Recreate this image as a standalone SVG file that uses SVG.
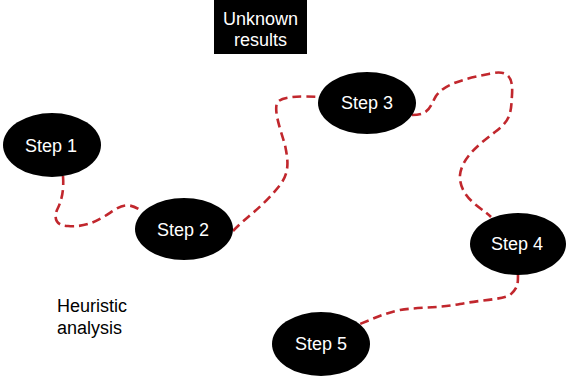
<svg xmlns="http://www.w3.org/2000/svg" width="566" height="376" viewBox="0 0 566 376">
<style>
.conn{fill:none;stroke:#c1272d;stroke-width:2.6;stroke-dasharray:9,5;stroke-linecap:butt}
.node ellipse{fill:#000}
.lbl{font-family:"Liberation Sans",Arial,sans-serif;font-size:18px;fill:#fff;text-anchor:middle}
.plain{font-family:"Liberation Sans",Arial,sans-serif;font-size:18px;fill:#000}
</style>
<rect width="566" height="376" fill="#fff"/>
<g id="connectors">
<path class="conn" d="M63,176 C64,190 62,200 57,210 C53,220 58,226 68,226 C82,227 92,224 105,216 C118,208 125,200 140,210"/>
<path class="conn" d="M233,231 C245,218 262,208 280,185 C290,172 288,160 285,145 C280,128 274,112 277,103 C281,96 300,96 320,97"/>
<path class="conn" d="M412,115 C430,115 430,106 436,96 C446,82 470,78 493,73 C510,70 513,80 512,95 C511,110 512,120 495,132 C478,145 462,158 460,175 C459,190 470,200 476,205 C482,210 486,212 491,217"/>
<path class="conn" d="M518,274 C518,284 518,288 510,295 C500,300 480,300 460,304 C440,308 420,307 400,310 C385,313 375,318 360,324"/>
</g>
<g id="unknown">
<rect x="214" y="-1" width="93" height="55" fill="#000"/>
<text class="lbl" x="260.5" y="25">Unknown</text>
<text class="lbl" x="260.5" y="46">results</text>
</g>
<g id="step1" class="node"><ellipse cx="52" cy="145" rx="49" ry="32"/><text class="lbl" x="51" y="152">Step 1</text></g>
<g id="step2" class="node"><ellipse cx="184" cy="229" rx="49" ry="31"/><text class="lbl" x="183" y="236">Step 2</text></g>
<g id="step3" class="node"><ellipse cx="367" cy="103" rx="49" ry="31"/><text class="lbl" x="367" y="109">Step 3</text></g>
<g id="step4" class="node"><ellipse cx="518" cy="244" rx="48" ry="31"/><text class="lbl" x="517" y="250">Step 4</text></g>
<g id="step5" class="node"><ellipse cx="321" cy="344" rx="49" ry="32"/><text class="lbl" x="321" y="350">Step 5</text></g>
<g id="heuristic">
<text class="plain" x="57" y="312">Heuristic</text>
<text class="plain" x="57" y="334">analysis</text>
</g>
</svg>
